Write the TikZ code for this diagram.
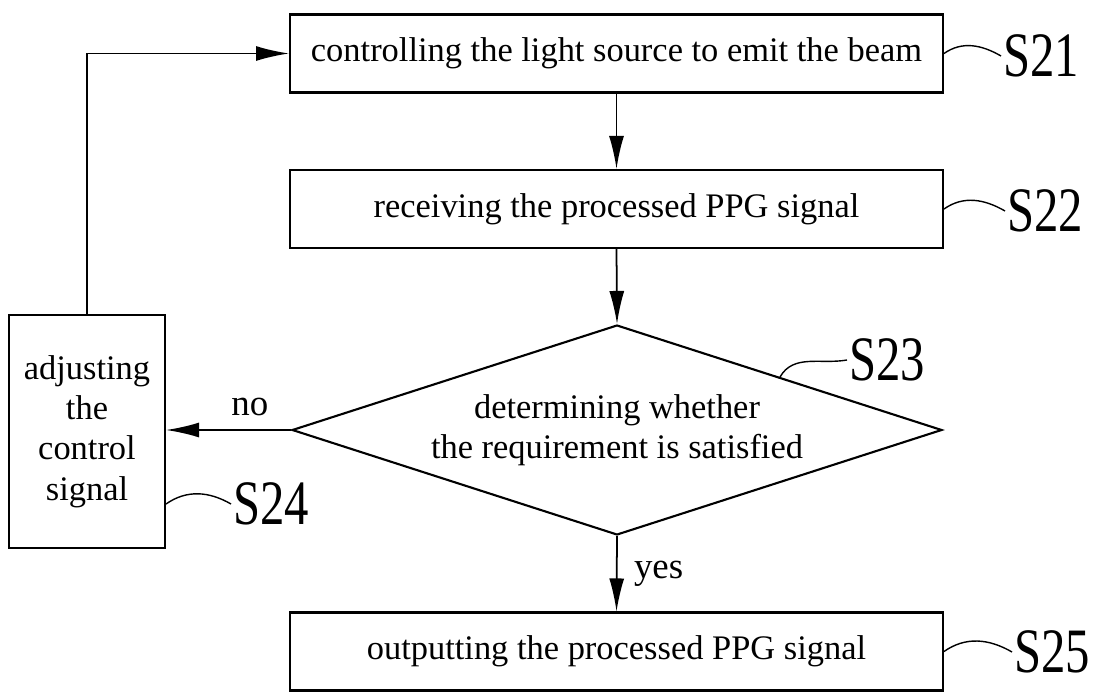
\documentclass[tikz,border=0pt]{standalone}
\usepackage{fontspec}
\setmainfont{Liberation Serif}
\usetikzlibrary{shapes.geometric,arrows.meta}
\newcommand{\stp}[1]{\scalebox{0.77}[1]{#1}}

\begin{document}
\begin{tikzpicture}[x=0.02cm,y=-0.02cm,
    box/.style={draw,line width=1.2pt,minimum width=13.06cm,minimum height=1.56cm,font=\fontsize{19.6}{23}\selectfont},
    lbl/.style={inner sep=1pt,font=\fontsize{36}{36}\selectfont},
    yn/.style={font=\fontsize{21}{25}\selectfont},
    >={Latex[length=0.66cm,width=0.3cm]}]
    \useasboundingbox (0,0) rectangle (1097,692);

    \node[box](s21) at (616.5,53.5) {controlling the light source to emit the beam};
    \node[box](s22) at (616.5,209) {receiving the processed PPG signal};
    \node[box,diamond,aspect=3.1,inner sep=0pt,minimum width=13cm,minimum height=4.2cm,align=center](s23) at (617,430) {determining whether\\the requirement is satisfied};
    \node[box,minimum width=3.12cm,minimum height=4.66cm,align=center](s24) at (87,431.5) {adjusting\\the\\control\\signal};
    \node[box](s25) at (616.5,651.5) {outputting the processed PPG signal};

    \node[lbl](l21) at (1041,56) {\stp{S21}};
    \node[lbl](l22) at (1045,211) {\stp{S22}};
    \node[lbl](l23) at (887,360) {\stp{S23}};
    \node[lbl](l24) at (271,504) {\stp{S24}};
    \node[lbl](l25) at (1052,652) {\stp{S25}};

    \draw[line width=1pt,->](s21.south)--(s22.north);
    \draw[line width=1pt,->](s22.south)--(s23.north);
    \draw[line width=1pt,->](s23.south)--node[yn,right=6pt]{yes}(s25.north);
    \draw[line width=1pt,->](s23.west)--node[yn,above=4pt,pos=0.33]{no}(s23.west -| s24.east);
    \draw[line width=1pt,->](s24.north)|-(s21.west);

    \draw[line width=0.8pt](s21.east) to[out=35,in=150] (l21.west);
    \draw[line width=0.8pt](s22.east) to[out=35,in=150] (l22.west);
    \draw[line width=0.8pt](s23.north east) to[out=60,in=190] (l23.west);
    \draw[line width=0.8pt](s24.east |- l24.west) to[out=35,in=150] (l24.west);
    \draw[line width=0.8pt](s25.east) to[out=35,in=150] (l25.west);
\end{tikzpicture}
\end{document}
